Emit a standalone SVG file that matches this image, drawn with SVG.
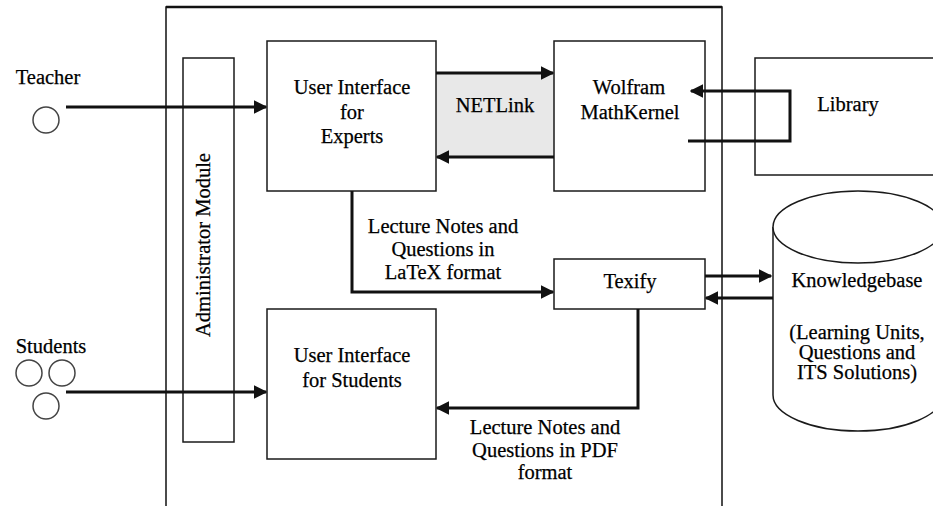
<svg xmlns="http://www.w3.org/2000/svg" width="933" height="506" viewBox="0 0 933 506">
<style>
.box{fill:#fff;stroke:#1a1a1a;stroke-width:1.5}
.c{fill:none;stroke:#111;stroke-width:3}
.actor{fill:#fff;stroke:#444;stroke-width:1.5}
</style>
<defs>
<marker id="ah" viewBox="0 0 10 10" refX="9" refY="5" markerWidth="4.5" markerHeight="4.5" orient="auto" markerUnits="strokeWidth">
<path d="M0,0 L10,5 L0,10 z" fill="#111"/>
</marker>
</defs>
<rect width="933" height="506" fill="#fff"/>
<g id="system-boundary">
<path d="M166,520 V7 H722 V520" fill="none" stroke="#111" stroke-width="1.5"/>
<line x1="166" y1="7" x2="722" y2="7" stroke="#111" stroke-width="2.5"/>
</g>
<g font-family="Liberation Serif, Times New Roman, DejaVu Serif, serif" font-size="20.5" fill="#000" stroke="#000" stroke-width="0.25" text-anchor="middle">
<g id="netlink">
<rect x="436" y="73" width="118" height="84" fill="#e8e8e8" stroke="none"/>
<text x="495" y="112">NETLink</text>
</g>
<g id="admin">
<rect class="box" x="183" y="58" width="51" height="384"/>
<text transform="translate(203,245) rotate(-90)" y="7">Administrator Module</text>
</g>
<g id="ui-experts">
<rect class="box" x="267" y="41" width="169" height="150"/>
<text x="352" y="94">User Interface</text>
<text x="352" y="119">for</text>
<text x="352" y="143">Experts</text>
</g>
<g id="wolfram">
<rect class="box" x="554" y="41" width="151" height="150"/>
<text x="629" y="94">Wolfram</text>
<text x="630" y="119">MathKernel</text>
</g>
<g id="library">
<rect class="box" x="755" y="58" width="190" height="117"/>
<text x="848" y="111">Library</text>
</g>
<g id="texify">
<rect class="box" x="554" y="259" width="151" height="50"/>
<text x="630" y="288">Texify</text>
</g>
<g id="ui-students">
<rect class="box" x="267" y="309" width="169" height="150"/>
<text x="352" y="362">User Interface</text>
<text x="352" y="387">for Students</text>
</g>
<g id="knowledgebase">
<path d="M773,227 V395 A85,36 0 0 0 943,395 V227" fill="#fff" stroke="#1a1a1a" stroke-width="1.5"/>
<ellipse cx="858" cy="227" rx="85" ry="36" fill="#fff" stroke="#1a1a1a" stroke-width="1.5"/>
<text x="857" y="287">Knowledgebase</text>
<text x="857" y="339">(Learning Units,</text>
<text x="857" y="359">Questions and</text>
<text x="857" y="379">ITS Solutions)</text>
</g>
<g id="teacher">
<text x="48" y="84">Teacher</text>
<circle class="actor" cx="46" cy="120" r="13"/>
</g>
<g id="students">
<text x="51" y="353">Students</text>
<circle class="actor" cx="29" cy="373" r="13"/>
<circle class="actor" cx="62" cy="373" r="13"/>
<circle class="actor" cx="46" cy="406" r="13"/>
</g>
<g id="connectors">
<line class="c" x1="66" y1="107" x2="266" y2="107" marker-end="url(#ah)"/>
<line class="c" x1="66" y1="392" x2="266" y2="392" marker-end="url(#ah)"/>
<line class="c" x1="436" y1="73" x2="553" y2="73" marker-end="url(#ah)"/>
<line class="c" x1="554" y1="157" x2="437" y2="157" marker-end="url(#ah)"/>
<path class="c" d="M688,141 H790 V91 H691" marker-end="url(#ah)"/>
<path class="c" d="M352,191 V292 H553" marker-end="url(#ah)"/>
<line class="c" x1="705" y1="276" x2="771" y2="276" marker-end="url(#ah)"/>
<line class="c" x1="773" y1="298" x2="706" y2="298" marker-end="url(#ah)"/>
<path class="c" d="M638,309 V408 H437" marker-end="url(#ah)"/>
<text x="443" y="233">Lecture Notes and</text>
<text x="443" y="256">Questions in</text>
<text x="443" y="279">LaTeX format</text>
<text x="545" y="434">Lecture Notes and</text>
<text x="545" y="457">Questions in PDF</text>
<text x="545" y="479">format</text>
</g>
</g>
</svg>
